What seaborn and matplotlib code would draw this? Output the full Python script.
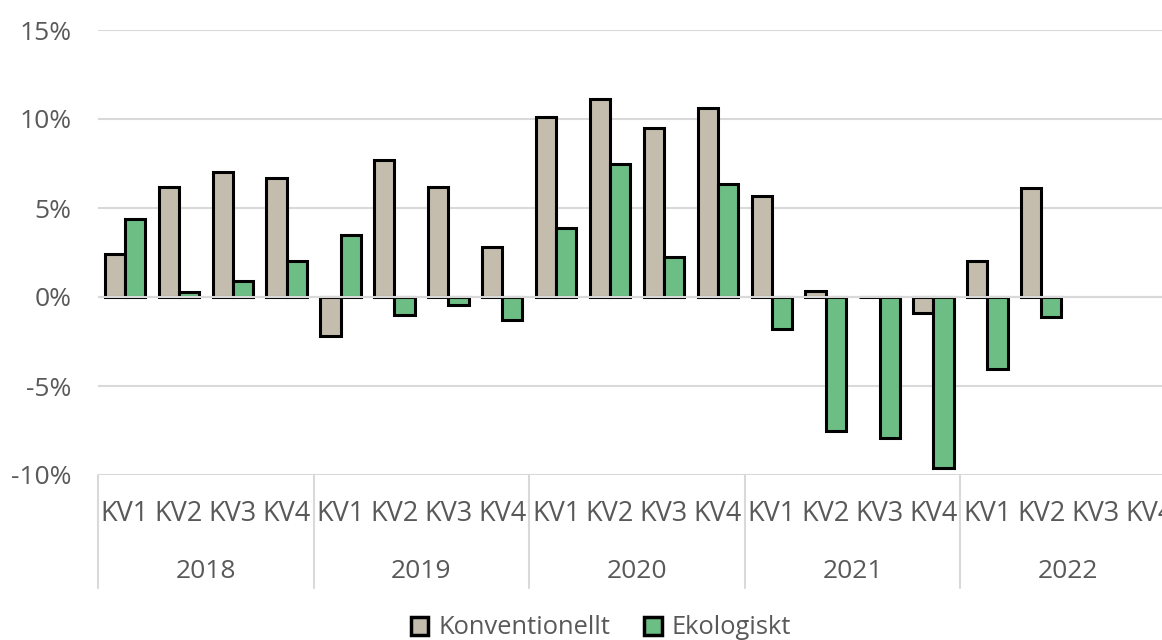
import pandas as pd
import seaborn as sns
import matplotlib.pyplot as plt
from matplotlib.patches import Patch
from matplotlib.ticker import FuncFormatter
import matplotlib.transforms as mtransforms

sns.set_theme(style="white")
plt.rcParams['font.family'] = ['Open Sans', 'DejaVu Sans']

# Data
years = ["2018", "2019", "2020", "2021", "2022"]
quarters = ["KV1", "KV2", "KV3", "KV4"]
konventionellt = [2.4, 6.2, 7.0, 6.7,
                  -2.2, 7.7, 6.2, 2.8,
                  10.1, 11.1, 9.5, 10.6,
                  5.7, 0.35, 0.0, -0.9,
                  2.0, 6.1, None, None]
ekologiskt = [4.4, 0.3, 0.9, 2.0,
              3.5, -1.0, -0.45, -1.3,
              3.9, 7.5, 2.25, 6.35,
              -1.8, -7.5, -7.9, -9.6,
              -4.05, -1.1, None, None]
series = ["Konventionellt", "Ekologiskt"]
colors = ["#C4BDAD", "#6DBE84"]

periods = [f"{y} {q}" for y in years for q in quarters]
df = pd.concat([
    pd.DataFrame({"period": periods, "serie": series[0], "value": konventionellt}),
    pd.DataFrame({"period": periods, "serie": series[1], "value": ekologiskt}),
], ignore_index=True)
df["value"] = df["value"].astype(float) / 100

text_color = "#595959"
grid_color = "#D9D9D9"

fig = plt.figure(figsize=(11.62, 6.4), dpi=100)
# axes runs slightly past the right edge, like the original
ax = fig.add_axes([98 / 1162, 165 / 640, 1078 / 1162, 445 / 640])

sns.barplot(data=df, x="period", y="value", hue="serie", order=periods,
            hue_order=series, palette=colors, width=0.75, ax=ax, saturation=1,
            edgecolor="black", linewidth=2.2, legend=False, errorbar=None)

ax.set_ylim(-0.10, 0.15)
ax.set_yticks([-0.10, -0.05, 0, 0.05, 0.10, 0.15])
ax.yaxis.set_major_formatter(FuncFormatter(lambda v, p: f"{v*100:.0f}%"))
ax.grid(axis="y", color=grid_color, linewidth=1.5)
ax.set_axisbelow(True)
ax.axhline(0, color=grid_color, linewidth=1.5, zorder=1)
for s in ax.spines.values():
    s.set_visible(False)

ax.set_xlabel("")
ax.set_ylabel("")
ax.set_xticks(range(len(periods)))
ax.set_xticklabels([q for y in years for q in quarters])
ax.tick_params(axis="x", length=0, pad=18, labelsize=19.5, labelcolor=text_color)
ax.tick_params(axis="y", length=0, pad=19, labelsize=19, labelcolor=text_color)
ax.set_xlim(-0.5, len(periods) - 0.5)

# year labels and group dividers below the axis
trans = mtransforms.blended_transform_factory(ax.transData, ax.transAxes)
drop = (588 - 475) / 445
for i, y in enumerate(years):
    ax.text(i * 4 + 1.5, -(572 - 475) / 445, y, transform=trans,
            ha="center", va="center", fontsize=19, color=text_color)
for b in range(len(years) + 1):
    ax.plot([b * 4 - 0.5, b * 4 - 0.5], [0, -drop], transform=trans,
            color=grid_color, linewidth=1.5, clip_on=False)

handles = [Patch(facecolor=c, edgecolor="black", linewidth=2.5) for c in colors]
fig.legend(handles, series, loc="center", bbox_to_anchor=(601 / 1162, 1 - 628 / 640),
           ncol=2, frameon=False, fontsize=18.4, labelcolor=text_color,
           handlelength=0.7, handleheight=0.7, handletextpad=0.4, columnspacing=1.3)

fig.savefig("out.png", dpi=100)
